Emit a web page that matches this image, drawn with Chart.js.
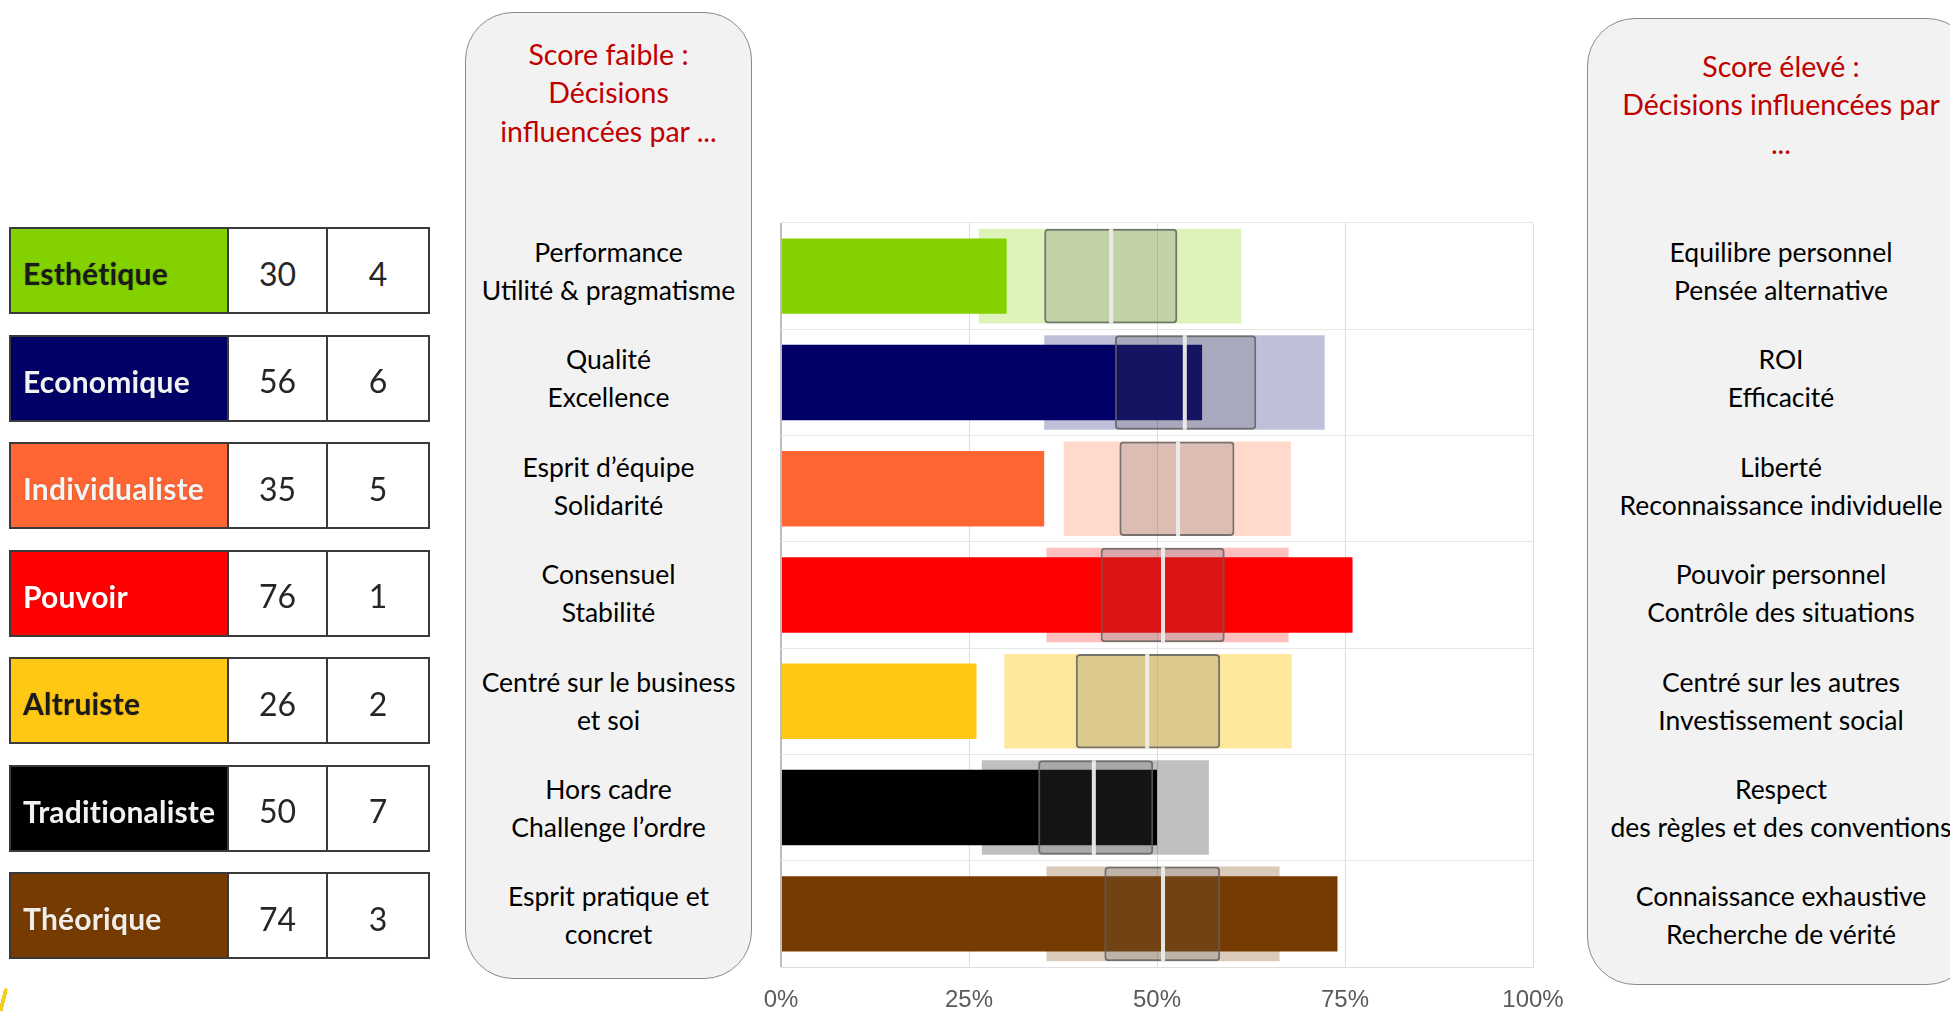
<!DOCTYPE html>
<html lang="fr">
<head>
<meta charset="utf-8">
<title>Profil de valeurs</title>
<script src="https://cdn.jsdelivr.net/npm/chart.js@4.4.1/dist/chart.umd.min.js"></script>
<style>
  html, body { margin:0; padding:0; }
  body { width:1950px; height:1011px; overflow:hidden; background:#ffffff; position:relative; font-family: Lato, "Open Sans", sans-serif; }
  #chart { position:absolute; left:0; top:0; }
  .row { position:absolute; left:9px; width:421px; height:87px; box-sizing:border-box; border:2px solid #3a3a3a; display:flex; background:#fff; }
  .cell { box-sizing:border-box; height:100%; display:flex; align-items:center; padding-top:5px; }
  .name { width:218px; border-right:2px solid #3a3a3a; padding-left:12px; font-weight:700; font-size:30px; letter-spacing:0.2px; text-shadow:0 0 2px rgba(0,0,0,0.25); }
  .num { justify-content:center; font-size:32px; color:#262626; }
  .score { width:99px; border-right:2px solid #3a3a3a; }
  .rank { flex:1; }
  .box { position:absolute; box-sizing:border-box; background:#f2f2f2; border:1.5px solid #8a8a8a; border-radius:48px; }
  .title { position:absolute; color:#c00000; font-size:28.5px; line-height:38.3px; text-align:center; white-space:nowrap; transform:translateX(-50%); }
  .desc { position:absolute; color:#000; font-size:26.5px; line-height:38px; text-align:center; white-space:nowrap; transform:translate(-50%,-50%); }
  .mark { position:absolute; left:1px; top:988px; width:4px; height:26px; background:#f2cf1a; transform:rotate(14deg); border-radius:2px; }
</style>
</head>
<body>
<canvas id="chart" width="1950" height="1011"></canvas>
<div id="overlay"></div>
<script>
// ---- data ----
const categories = ['Esthétique', 'Economique', 'Individualiste', 'Pouvoir', 'Altruiste', 'Traditionaliste', 'Théorique'];
const scores = [30, 56, 35, 76, 26, 50, 74];
const ranks = [4, 6, 5, 1, 2, 7, 3];
const rangeLow = [26.3, 35.0, 37.6, 35.3, 29.7, 26.7, 35.3];
const rangeHigh = [61.2, 72.3, 67.8, 67.5, 67.9, 56.9, 66.3];
const quartileLow = [35.0, 44.4, 45.0, 42.5, 39.2, 34.2, 43.0];
const quartileHigh = [52.7, 63.2, 60.3, 59.0, 58.4, 49.5, 58.4];
const medians = [43.9, 53.7, 52.8, 50.8, 48.7, 41.6, 50.8];
const xTickValues = [0, 25, 50, 75, 100];
const lowTitle = ['Score faible :', 'Décisions', 'influencées par ...'];
const highTitle = ['Score élevé :', 'Décisions influencées par', '...'];
const lowTexts = [
  ['Performance', 'Utilité & pragmatisme'],
  ['Qualité', 'Excellence'],
  ['Esprit d’équipe', 'Solidarité'],
  ['Consensuel', 'Stabilité'],
  ['Centré sur le business', 'et soi'],
  ['Hors cadre', 'Challenge l’ordre'],
  ['Esprit pratique et', 'concret']
];
const highTexts = [
  ['Equilibre personnel', 'Pensée alternative'],
  ['ROI', 'Efficacité'],
  ['Liberté', 'Reconnaissance individuelle'],
  ['Pouvoir personnel', 'Contrôle des situations'],
  ['Centré sur les autres', 'Investissement social'],
  ['Respect', 'des règles et des conventions'],
  ['Connaissance exhaustive', 'Recherche de vérité']
];

// ---- styles ----
const barColors = ['#83d200', '#000066', '#ff6633', '#ff0000', '#ffc814', '#000000', '#763b00'];
const lightColors = ['rgba(131,210,0,0.27)', 'rgba(0,0,102,0.25)', 'rgba(255,102,51,0.25)', 'rgba(255,0,0,0.25)', 'rgba(255,200,20,0.42)', 'rgba(0,0,0,0.25)', 'rgba(118,59,0,0.27)'];
const nameTextColors = ['#1a1a1a', '#f2f2f2', '#f5f5f5', '#ffffff', '#1a1a1a', '#f2f2f2', '#f2ece6'];

// ---- overlay: table and text boxes ----
const overlay = document.getElementById('overlay');
const rowTop0 = 227, rowPitch = 107.5;
categories.forEach((c, i) => {
  const row = document.createElement('div');
  row.className = 'row';
  row.style.top = (rowTop0 + i * rowPitch) + 'px';
  const n = document.createElement('div');
  n.className = 'cell name';
  n.style.background = barColors[i];
  n.style.color = nameTextColors[i];
  n.textContent = c;
  const s = document.createElement('div');
  s.className = 'cell num score';
  s.textContent = scores[i];
  const r = document.createElement('div');
  r.className = 'cell num rank';
  r.textContent = ranks[i];
  row.append(n, s, r);
  overlay.appendChild(row);
});

function addBox(left, top, width, height) {
  const b = document.createElement('div');
  b.className = 'box';
  Object.assign(b.style, { left: left + 'px', top: top + 'px', width: width + 'px', height: height + 'px' });
  overlay.appendChild(b);
}
function addTitle(lines, cx, top) {
  const t = document.createElement('div');
  t.className = 'title';
  t.style.left = cx + 'px';
  t.style.top = top + 'px';
  t.innerHTML = lines.map(l => l.replace(/&/g, '&amp;')).join('<br>');
  overlay.appendChild(t);
}
function addTexts(texts, cx) {
  texts.forEach((pair, i) => {
    const d = document.createElement('div');
    d.className = 'desc';
    d.style.left = cx + 'px';
    d.style.top = (271 + i * 107.4) + 'px';
    d.innerHTML = pair.map(l => l.replace(/&/g, '&amp;')).join('<br>');
    overlay.appendChild(d);
  });
}
addBox(465, 12, 287, 967);
addTitle(lowTitle, 608.5, 35);
addTexts(lowTexts, 608.5);
addBox(1587, 18, 388, 967);
addTitle(highTitle, 1781, 47);
addTexts(highTexts, 1781);
const mark = document.createElement('div');
mark.className = 'mark';
overlay.appendChild(mark);

// ---- chart ----
const common = { grouped: false, categoryPercentage: 1 };
new Chart(document.getElementById('chart'), {
  type: 'bar',
  data: {
    labels: categories,
    datasets: [
      Object.assign({
        label: 'Plage',
        data: rangeLow.map((v, i) => [v, rangeHigh[i]]),
        backgroundColor: lightColors,
        borderWidth: 0,
        barPercentage: 0.89,
        order: 4
      }, common),
      Object.assign({
        label: 'Score',
        data: scores,
        backgroundColor: barColors,
        borderWidth: 0,
        barPercentage: 0.71,
        order: 3
      }, common),
      Object.assign({
        label: 'Quartiles',
        data: quartileLow.map((v, i) => [v, quartileHigh[i]]),
        backgroundColor: 'rgba(90,90,90,0.22)',
        borderColor: 'rgba(95,95,95,0.85)',
        borderWidth: 2,
        borderRadius: 4,
        borderSkipped: false,
        barPercentage: 0.89,
        order: 2
      }, common),
      Object.assign({
        label: 'Médiane',
        data: medians.map(m => [m - 0.27, m + 0.27]),
        backgroundColor: 'rgba(236,236,236,0.95)',
        borderWidth: 0,
        barPercentage: 0.89,
        order: 1
      }, common)
    ]
  },
  options: {
    indexAxis: 'y',
    responsive: false,
    animation: false,
    events: [],
    layout: { padding: { left: 781, right: 417, top: 223, bottom: 0 } },
    plugins: { legend: { display: false }, tooltip: { enabled: false } },
    scales: {
      x: {
        type: 'linear',
        min: 0, max: 100,
        afterBuildTicks: s => { s.ticks = xTickValues.map(v => ({ value: v })); },
        afterFit: s => { s.height = 44; },
        grid: { color: ctx => (ctx.tick && ctx.tick.value === 0 ? '#bdbdbd' : '#dedede'), lineWidth: ctx => (ctx.tick && ctx.tick.value === 0 ? 2 : 1), drawTicks: false },
        border: { display: true, color: '#dedede' },
        ticks: {
          padding: 19,
          color: '#5a5a5a',
          font: { family: '"Liberation Sans", Arial, sans-serif', size: 24 },
          callback: v => v + '%'
        }
      },
      y: {
        type: 'category',
        afterFit: s => { s.width = 0; },
        grid: { offset: true, color: '#e6e6e6', lineWidth: 1, drawTicks: false },
        border: { display: false },
        ticks: { display: false }
      }
    }
  }
});
</script>
</body>
</html>
